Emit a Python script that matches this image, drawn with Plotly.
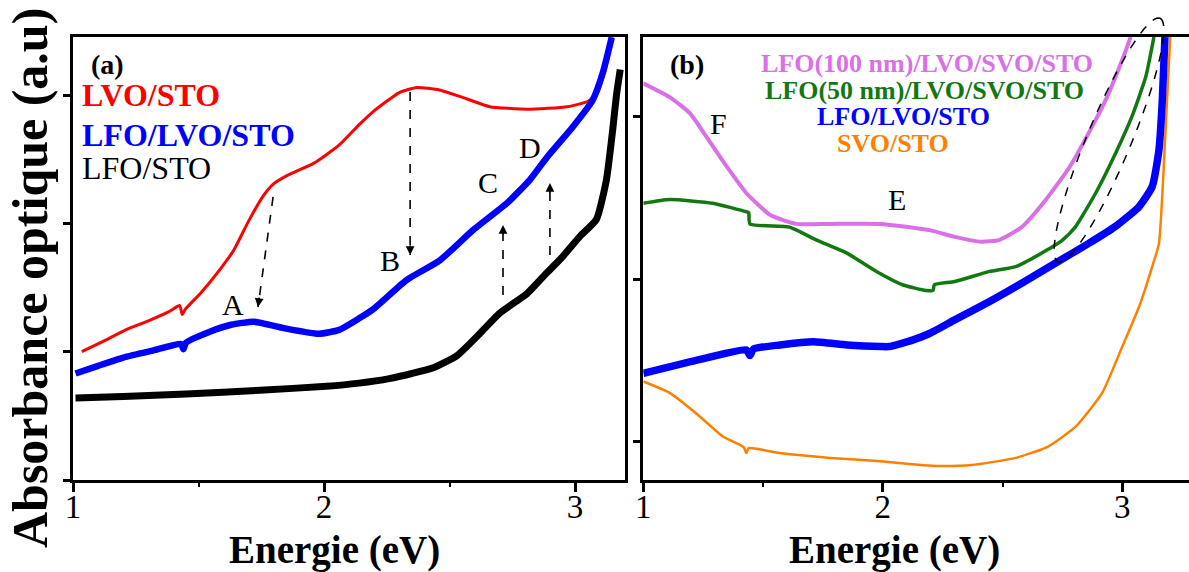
import numpy as np
import plotly.graph_objects as go

# ---------------- data: panel (a) ----------------
x_lvo = [1.035, 1.12, 1.21, 1.30, 1.38, 1.425, 1.435, 1.447, 1.51, 1.585, 1.64, 1.70, 1.76, 1.80, 1.86,
         1.96, 2.06, 2.14, 2.195, 2.30, 2.37, 2.46, 2.57, 2.66, 2.81, 2.97, 3.05, 3.09, 3.12, 3.15]
y_lvo = [1.00, 1.08, 1.17, 1.24, 1.31, 1.36, 1.29, 1.33, 1.46, 1.64, 1.79, 2.02, 2.22, 2.31, 2.38,
         2.47, 2.61, 2.77, 2.87, 3.02, 3.06, 3.04, 2.97, 2.91, 2.89, 2.91, 2.95, 3.02, 3.20, 3.45]

x_lfo_lvo = [1.01, 1.10, 1.21, 1.32, 1.43, 1.44, 1.45, 1.545, 1.63, 1.72, 1.85, 1.98, 2.06, 2.14, 2.195,
             2.33, 2.46, 2.595, 2.73, 2.82, 2.89, 2.99, 3.07, 3.11, 3.146]
y_lfo_lvo = [0.83, 0.89, 0.96, 1.01, 1.06, 1.02, 1.07, 1.156, 1.21, 1.234, 1.18, 1.14, 1.17, 1.26, 1.33,
             1.56, 1.71, 1.95, 2.16, 2.34, 2.52, 2.75, 2.96, 3.17, 3.45]

x_lfo = [1.01, 1.20, 1.45, 1.745, 2.01, 2.14, 2.26, 2.35, 2.435, 2.53, 2.62, 2.70, 2.81, 2.89, 2.95, 3.02,
         3.085, 3.125, 3.15, 3.165, 3.18]
y_lfo = [0.64, 0.65, 0.67, 0.70, 0.73, 0.755, 0.79, 0.83, 0.875, 0.97, 1.14, 1.30, 1.455, 1.62, 1.74, 1.90,
         2.03, 2.34, 2.73, 3.00, 3.20]

# ---------------- data: panel (b) ----------------
x_l100 = [1.0, 1.11, 1.195, 1.28, 1.35, 1.43, 1.53, 1.64, 1.78, 1.99, 2.20, 2.30, 2.41, 2.485, 2.58,
          2.68, 2.78, 2.86, 2.93, 3.0, 3.035]
y_l100 = [2.205, 2.12, 2.02, 1.84, 1.69, 1.53, 1.395, 1.34, 1.34, 1.34, 1.30, 1.26, 1.23, 1.24, 1.32,
          1.487, 1.69, 1.90, 2.10, 2.35, 2.49]

x_l50 = [1.0, 1.11, 1.29, 1.43, 1.44, 1.445, 1.61, 1.724, 1.85, 1.975, 2.085, 2.18, 2.21, 2.215, 2.30,
         2.443, 2.555, 2.65, 2.75, 2.805, 2.889, 2.972, 3.04, 3.098, 3.132]
y_l50 = [1.467, 1.49, 1.467, 1.415, 1.41, 1.34, 1.32, 1.24, 1.16, 1.046, 0.964, 0.93, 0.93, 0.965, 0.985,
         1.046, 1.077, 1.149, 1.24, 1.323, 1.53, 1.775, 2.0, 2.245, 2.49]

x_b_lfo_lvo = [1.0, 1.22, 1.43, 1.445, 1.46, 1.57, 1.71, 1.85, 1.99, 2.026, 2.127, 2.197, 2.30, 2.443,
               2.58, 2.72, 2.86, 2.97, 3.07, 3.125, 3.153, 3.167, 3.178]
y_b_lfo_lvo = [0.42, 0.50, 0.565, 0.53, 0.57, 0.595, 0.615, 0.595, 0.585, 0.585, 0.626, 0.667, 0.749, 0.86,
               0.975, 1.098, 1.22, 1.323, 1.446, 1.57, 1.795, 2.10, 2.49]

x_svo = [1.0, 1.11, 1.22, 1.334, 1.42, 1.43, 1.44, 1.57, 1.78, 1.99, 2.17, 2.235, 2.37, 2.555, 2.69,
         2.805, 2.916, 3.0, 3.07, 3.125, 3.153, 3.18, 3.20]
y_svo = [0.37, 0.30, 0.175, 0.03, -0.035, -0.07, -0.04, -0.07, -0.10, -0.12, -0.145, -0.15, -0.144, -0.10,
         -0.03, 0.092, 0.30, 0.585, 0.83, 1.077, 1.22, 1.90, 2.49]

x_ticks = [1, 2, 3]
x_minor = [1.5, 2.5]

# dashed arrows in panel (a): (x_tail, x_head), (y_tail, y_head)
arrow_x = [[1.797, 1.737], [2.343, 2.343], [2.713, 2.713], [2.90, 2.90]]
arrow_y = [[2.206, 1.348], [3.024, 1.754], [1.442, 1.988], [1.754, 2.315]]

# ---------------- layout helpers ----------------
W, H = 1189, 572
ML, MR, MT, MB = 73, 0, 37, 92
PW, PH = W - ML - MR, H - MT - MB
FONT = "Liberation Serif, Times New Roman, serif"


def P(px, py):
    return (px - ML) / PW, (H - MB - py) / PH


fig = go.Figure()

def add(x, y, color, width, xa="x", ya="y"):
    fig.add_trace(go.Scatter(x=x, y=y, mode="lines", xaxis=xa, yaxis=ya,
                             line=dict(color=color, width=width, shape="spline", smoothing=0.5),
                             showlegend=False, hoverinfo="skip"))

add(x_lvo, y_lvo, "#FF0000", 3)
add(x_lfo, y_lfo, "#000000", 7)
add(x_lfo_lvo, y_lfo_lvo, "#0000FF", 6.5)

add(x_svo, y_svo, "#FF8000", 2.5, "x2", "y2")
add(x_b_lfo_lvo, y_b_lfo_lvo, "#0000FF", 7.5, "x2", "y2")
add(x_l50, y_l50, "#127812", 3.5, "x2", "y2")
add(x_l100, y_l100, "#DA70E8", 4, "x2", "y2")

annotations = []
for ax_, ay_ in zip(arrow_x, arrow_y):
    fig.add_trace(go.Scatter(x=ax_, y=ay_, mode="lines", xaxis="x", yaxis="y",
                             line=dict(color="black", width=1.6, dash="dash"),
                             showlegend=False, hoverinfo="skip"))
    dx = ax_[1] - ax_[0]
    dy = ay_[1] - ay_[0]
    pdx, pdy = dx * 251, -dy * 128.3
    n = np.hypot(pdx, pdy)
    annotations.append(dict(x=ax_[1], y=ay_[1], xref="x", yref="y", text="", showarrow=True,
                            ax=-pdx / n * 11, ay=-pdy / n * 11, arrowhead=2, arrowsize=1.1,
                            arrowwidth=1.6, arrowcolor="black", standoff=0))

axis_common = dict(showline=True, linewidth=3, linecolor="black", showgrid=False, zeroline=False,
                   ticks="outside", tickwidth=2.5, tickcolor="black")

fig.update_layout(
    width=W, height=H, margin=dict(l=ML, r=MR, t=MT, b=MB),
    paper_bgcolor="white", plot_bgcolor="white",
    font=dict(family=FONT, color="black"),
    xaxis=dict(domain=[0, 552 / PW], range=[1, 3.199], tickvals=x_ticks, ticklen=9, mirror=True,
               tickfont=dict(size=33, family=FONT), anchor="y", ticklabelstandoff=-14,
               minor=dict(tickvals=x_minor, ticklen=4, ticks="outside", tickwidth=2, tickcolor="black"),
               **axis_common),
    yaxis=dict(domain=[0, 1], range=[0, 3.453], tickvals=[0, 1, 2, 3], ticklen=7, showticklabels=False,
               mirror=True, anchor="x", **axis_common),
    xaxis2=dict(domain=[570.3 / PW, 1], range=[1, 3.2785], tickvals=x_ticks, ticklen=9, mirror=True,
                tickfont=dict(size=33, family=FONT), anchor="y2", ticklabelstandoff=-14,
                minor=dict(tickvals=x_minor, ticklen=4, ticks="outside", tickwidth=2, tickcolor="black"),
                **axis_common),
    yaxis2=dict(domain=[0, 1], range=[-0.236, 2.49], tickvals=[0, 1, 2], ticklen=7, showticklabels=False,
                mirror=False, anchor="x2", **axis_common),
)


def txt(s, px, py, size, color="black", bold=False, xanchor="center", angle=0):
    x, y = P(px, py)
    annotations.append(dict(x=x, y=y, xref="paper", yref="paper", text=(f"<b>{s}</b>" if bold else s),
                            showarrow=False, xanchor=xanchor, yanchor="middle", textangle=angle,
                            font=dict(family=FONT, size=size, color=color)))

txt("(a)", 107, 65, 28, bold=True)
txt("LVO/STO", 80, 95, 32, "#FF0000", True, "left")
txt("LFO/LVO/STO", 80, 135, 32, "#0000FF", True, "left")
txt("LFO/STO", 80, 168, 32, "black", False, "left")
txt("A", 233, 304, 30)
txt("B", 390, 260, 30)
txt("C", 488, 182, 30)
txt("D", 530, 147, 30)

txt("(b)", 687, 65, 28, bold=True)
txt("LFO(100 nm)/LVO/SVO/STO", 927, 63, 26, "#DA70E8", True)
txt("LFO(50 nm)/LVO/SVO/STO", 924, 90, 26, "#127812", True)
txt("LFO/LVO/STO", 903, 116, 26, "#0000FF", True)
txt("SVO/STO", 893, 143, 26, "#FF8000", True)
txt("F", 718, 123, 30)
txt("E", 897, 200, 30)

txt("Energie (eV)", 334, 550, 39, bold=True)
txt("Energie (eV)", 894, 550, 39, bold=True)
txt("Absorbance optique (a.u)", 30, 278, 50, bold=True, angle=-90)

# dashed ellipse (panel b), built in pixel space then mapped to paper
cx, cy, a_, b_ = 1109.0, 140.0, 132.0, 22.0
th = np.deg2rad(22.7)
u = np.array([np.sin(th), -np.cos(th)])
v = np.array([np.cos(th), np.sin(th)])
t = np.linspace(0, 2 * np.pi, 90)
pts = [P(cx + a_ * np.cos(tt) * u[0] + b_ * np.sin(tt) * v[0],
         cy + a_ * np.cos(tt) * u[1] + b_ * np.sin(tt) * v[1]) for tt in t]
path = "M " + " L ".join(f"{x:.5f},{y:.5f}" for x, y in pts) + " Z"
fig.add_shape(type="path", path=path, xref="paper", yref="paper",
              line=dict(color="black", width=1.5, dash="dash"))

fig.update_layout(annotations=annotations)
fig.write_html("out.html", config={"displayModeBar": False},
               post_script="document.body.style.margin='0';document.body.style.overflow='hidden';")
